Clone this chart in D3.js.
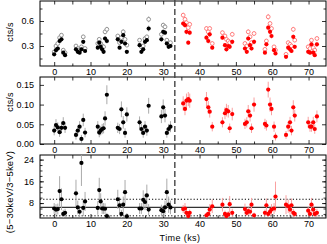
<!DOCTYPE html>
<html>
<head>
<meta charset="utf-8">
<script src="https://cdn.jsdelivr.net/npm/d3@7"></script>
<style>
  body { margin: 0; background: #fff; }
  svg { display: block; font-family: "Liberation Sans", Arial, sans-serif; }
</style>
</head>
<body>
<div id="chart"></div>
<script>
// ---- data ----
// first observation (black, t < 33 ks)
var timeBlack = [0.0, 0.5, 1.0, 1.5, 2.0, 2.5, 3.0,
  6.0, 6.5, 7.0, 7.5, 8.0, 8.5,
  12.0, 12.4, 12.8, 13.2, 13.6, 14.0, 14.5,
  17.5, 18.0, 18.5, 19.0, 19.5, 20.0,
  23.5, 24.0, 24.5, 25.0, 25.5, 26.0,
  29.5, 30.0, 30.5, 31.0, 31.5, 32.0];
var filledBlack = [0.20, 0.25, 0.27, 0.36, 0.38, 0.22, 0.19,
  0.26, 0.23, 0.22, 0.26, 0.35, 0.24,
  0.28, 0.34, 0.29, 0.26, 0.23, 0.39, 0.36,
  0.38, 0.28, 0.35, 0.43, 0.33, 0.23,
  0.31, 0.23, 0.26, 0.35, 0.37, 0.51,
  0.38, 0.47, 0.46, 0.33, 0.29, 0.30];
var openBlack = [0.23, 0.30, 0.33, 0.40, 0.43, 0.25, 0.22,
  0.30, 0.27, 0.25, 0.29, 0.41, 0.27,
  0.33, 0.38, 0.33, 0.30, 0.29, 0.47, 0.50,
  0.42, 0.34, 0.40, 0.47, 0.38, 0.31,
  0.37, 0.29, 0.30, 0.39, 0.41, 0.62,
  0.44, 0.55, 0.53, 0.37, 0.33, 0.34];
var rateErrBlack = [0.02, 0.02, 0.02, 0.025, 0.025, 0.02, 0.02,
  0.02, 0.02, 0.02, 0.02, 0.025, 0.02,
  0.02, 0.025, 0.02, 0.02, 0.02, 0.03, 0.03,
  0.025, 0.02, 0.025, 0.03, 0.025, 0.02,
  0.02, 0.02, 0.02, 0.025, 0.025, 0.035,
  0.025, 0.03, 0.03, 0.025, 0.02, 0.02];
var hardBlack = [0.034, 0.048, 0.042, 0.030, 0.041, 0.053, 0.041,
  0.023, 0.034, 0.044, 0.013, 0.061, 0.029,
  0.044, 0.029, 0.034, 0.038, 0.040, 0.065, 0.125,
  0.041, 0.038, 0.088, 0.055, 0.028, 0.075,
  0.055, 0.038, 0.028, 0.044, 0.034, 0.097,
  0.070, 0.093, 0.072, 0.028, 0.038, 0.044];
var hardErrBlack = [0.012, 0.015, 0.013, 0.012, 0.013, 0.015, 0.013,
  0.012, 0.013, 0.014, 0.010, 0.016, 0.012,
  0.014, 0.012, 0.012, 0.013, 0.013, 0.018, 0.024,
  0.013, 0.013, 0.020, 0.016, 0.012, 0.018,
  0.015, 0.013, 0.012, 0.014, 0.013, 0.020,
  0.017, 0.020, 0.017, 0.012, 0.013, 0.014];
var ratioBlack = [6.0, 5.6, 5.8, 12.4, 9.4, 4.0, 4.4,
  11.6, 6.4, 4.8, 22.8, 6.2, 8.6,
  6.2, 12.8, 8.6, 6.0, 6.0, 5.9, 3.2,
  9.4, 7.2, 4.0, 7.4, 12.0, 3.1,
  6.0, 6.0, 9.2, 8.4, 10.8, 5.6,
  5.4, 5.0, 6.4, 12.0, 7.4, 6.4];
var ratioErrBlack = [2, 2, 2, 5.5, 4, 1.5, 1.5,
  5, 2.5, 2, 8.5, 3, 3.5,
  2.5, 4.5, 3, 2, 2, 2, 1.2,
  3.5, 3, 1.5, 3, 4.5, 1.2,
  2, 2, 3.5, 3, 4, 2,
  2, 2, 2.5, 5, 3, 2.5];

// second observation (red, t > 33 ks)
var timeRed = [35.5, 36.0, 36.4, 36.9, 37.3,
  41.9, 42.4, 42.8, 43.5,
  46.3, 47.0, 47.4, 47.9, 48.3, 49.0,
  52.5, 53.0, 53.4, 53.9, 54.3, 55.0,
  58.0, 58.4, 58.9, 59.4, 59.8, 60.5, 60.9,
  63.8, 64.4, 64.9, 65.3, 65.8, 66.2,
  69.9, 70.4, 70.8, 71.3, 71.7, 72.3];
var filledRed = [0.57, 0.55, 0.47, 0.34, 0.46,
  0.40, 0.36, 0.44, 0.28,
  0.40, 0.31, 0.26, 0.30, 0.29, 0.35,
  0.27, 0.23, 0.39, 0.31, 0.27, 0.35,
  0.22, 0.32, 0.52, 0.47, 0.42, 0.25, 0.21,
  0.17, 0.28, 0.26, 0.24, 0.41, 0.29,
  0.23, 0.22, 0.32, 0.22, 0.19, 0.32];
var openRed = [0.67, 0.62, 0.58, 0.52, 0.56,
  0.51, 0.47, 0.51, 0.33,
  0.46, 0.42, 0.38, 0.36, 0.34, 0.44,
  0.33, 0.30, 0.47, 0.41, 0.34, 0.45,
  0.26, 0.36, 0.65, 0.57, 0.51, 0.29, 0.25,
  0.20, 0.34, 0.32, 0.30, 0.50, 0.37,
  0.29, 0.27, 0.37, 0.28, 0.25, 0.39];
var rateErrRed = [0.03, 0.03, 0.03, 0.025, 0.03,
  0.03, 0.03, 0.03, 0.025,
  0.025, 0.025, 0.025, 0.025, 0.025, 0.03,
  0.025, 0.02, 0.03, 0.025, 0.025, 0.03,
  0.02, 0.025, 0.035, 0.03, 0.03, 0.02, 0.02,
  0.02, 0.025, 0.025, 0.025, 0.03, 0.025,
  0.025, 0.025, 0.025, 0.025, 0.02, 0.03];
var hardRed = [0.103, 0.089, 0.110, 0.114, 0.110,
  0.114, 0.093, 0.082, 0.044,
  0.055, 0.078, 0.086, 0.083, 0.040, 0.076,
  0.051, 0.055, 0.083, 0.072, 0.040, 0.100,
  0.051, 0.047, 0.138, 0.100, 0.089, 0.044, 0.019,
  0.023, 0.044, 0.055, 0.034, 0.093, 0.072,
  0.055, 0.044, 0.044, 0.055, 0.038, 0.070];
var hardErrRed = [0.018, 0.016, 0.018, 0.018, 0.018,
  0.018, 0.016, 0.015, 0.012,
  0.013, 0.015, 0.016, 0.016, 0.012, 0.016,
  0.013, 0.013, 0.016, 0.015, 0.012, 0.018,
  0.013, 0.013, 0.020, 0.018, 0.016, 0.013, 0.010,
  0.010, 0.013, 0.014, 0.012, 0.018, 0.015,
  0.014, 0.013, 0.013, 0.014, 0.012, 0.015];
var ratioRed = [5.8, 6.0, 4.4, 3.2, 4.4,
  3.5, 4.0, 5.6, 6.8,
  7.4, 4.0, 3.2, 3.8, 7.6, 4.4,
  5.8, 4.4, 5.0, 4.8, 7.4, 3.5,
  4.4, 7.2, 4.0, 4.8, 5.6, 6.0, 10.4,
  7.4, 6.8, 5.6, 7.2, 4.4, 4.0,
  5.2, 4.0, 7.4, 5.6, 4.0, 4.4];
var ratioErrRed = [1.5, 2, 1.2, 1, 1.2,
  1, 1.2, 2, 2.5,
  2.5, 1.2, 1, 1.2, 3, 1.5,
  2, 1.2, 1.5, 1.5, 2.5, 1,
  1.2, 2.5, 1.2, 1.5, 2, 2, 5.5,
  3.5, 2.5, 2, 2.5, 1.5, 1.2,
  1.5, 1.2, 2.5, 2, 1.2, 1.5];

// reference lines and tick labels
var splitTime = 33.2;
var ratioMean = 6.4;
var ratioLimits = [3.3, 9.4];
var timeTicks = [0, 10, 20, 30, 40, 50, 60, 70];
var rateTicks = [0.3, 0.6];
var hardTicks = [0, 0.05, 0.1, 0.15];
var ratioTicks = [8, 16, 24];

function renderLightCurve(el) {
    var width = 327, height = 244;
    var left = 40, right = 326;

    var svg = d3.select("#" + el)
        .append("svg")
        .attr("width", width)
        .attr("height", height);

    var x = d3.scaleLinear().domain([-3.9, 74.8]).range([left, right]);

    // one entry per stacked panel
    var panels = [
        {top: 1, bottom: 66, domain: [0.06, 0.84], ticks: rateTicks, minor: [0.15, 0.45, 0.75],
         label: "cts/s", labelY: 32, labelSize: 9},
        {top: 77, bottom: 144, domain: [0, 0.17], ticks: hardTicks, minor: [],
         label: "cts/s", labelY: 102, labelSize: 9},
        {top: 155, bottom: 218, domain: [2.5, 25.7], ticks: ratioTicks, minor: d3.range(4, 26, 2),
         label: "(5\u221230keV/3\u22125keV)", labelY: 192, labelSize: 9.5}
    ];

    panels.forEach(function(p) {
        p.y = d3.scaleLinear().domain(p.domain).range([p.bottom, p.top]);
    });

    function styleAxis(g) {
        g.select(".domain").remove();
        g.selectAll("line").attr("stroke", "#000").attr("stroke-width", 0.8);
        g.selectAll("text")
            .attr("fill", "#000")
            .style("font-size", "9px")
            .style("font-family", "'Liberation Sans', Arial, sans-serif");
    }

    // frames, inward ticks on all four sides, labels
    panels.forEach(function(p) {
        var g = svg.append("g");
        var xMinor = d3.range(0, 75, 5).filter(function(v) { return v % 10 != 0; });

        g.append("g").attr("transform", "translate(0," + p.bottom + ")")
            .call(d3.axisBottom(x).tickValues(timeTicks).tickSizeInner(-4).tickSizeOuter(0).tickPadding(3))
            .call(styleAxis);
        g.append("g").attr("transform", "translate(0," + p.bottom + ")")
            .call(d3.axisBottom(x).tickValues(xMinor).tickSizeInner(-2.5).tickSizeOuter(0).tickFormat(""))
            .call(styleAxis);
        g.append("g").attr("transform", "translate(0," + p.top + ")")
            .call(d3.axisTop(x).tickValues(timeTicks.concat(xMinor)).tickSizeInner(-3.5).tickSizeOuter(0).tickFormat(""))
            .call(styleAxis);

        g.append("g").attr("transform", "translate(" + left + ",0)")
            .call(d3.axisLeft(p.y).tickValues(p.ticks).tickSizeInner(-4).tickSizeOuter(0).tickPadding(6))
            .call(styleAxis);
        g.append("g").attr("transform", "translate(" + left + ",0)")
            .call(d3.axisLeft(p.y).tickValues(p.minor).tickSizeInner(-2.5).tickSizeOuter(0).tickFormat(""))
            .call(styleAxis);
        g.append("g").attr("transform", "translate(" + right + ",0)")
            .call(d3.axisRight(p.y).tickValues(p.ticks).tickSizeInner(-4).tickSizeOuter(0).tickFormat(""))
            .call(styleAxis);
        g.append("g").attr("transform", "translate(" + right + ",0)")
            .call(d3.axisRight(p.y).tickValues(p.minor).tickSizeInner(-2.5).tickSizeOuter(0).tickFormat(""))
            .call(styleAxis);

        g.append("rect")
            .attr("x", left).attr("y", p.top)
            .attr("width", right - left).attr("height", p.bottom - p.top)
            .attr("fill", "none").attr("stroke", "#000").attr("stroke-width", 1);

        g.append("text")
            .attr("transform", "translate(13," + p.labelY + ") rotate(-90)")
            .attr("text-anchor", "middle")
            .style("font-size", p.labelSize + "px")
            .style("letter-spacing", "0.2px")
            .text(p.label);
    });

    // draw one series: error bars then markers
    function drawSeries(p, times, vals, errs, opts) {
        var rows = times.map(function(t, i) { return {t: t, v: vals[i], e: errs[i]}; });
        var g = svg.append("g");
        g.selectAll("line")
            .data(rows)
            .enter()
            .append("line")
            .attr("x1", function(d) { return x(d.t); })
            .attr("x2", function(d) { return x(d.t); })
            .attr("y1", function(d) { return Math.min(p.y(d.v - d.e), p.bottom); })
            .attr("y2", function(d) { return Math.max(p.y(d.v + d.e), p.top); })
            .attr("stroke", opts.err)
            .attr("stroke-width", 1);
        g.selectAll("circle")
            .data(rows)
            .enter()
            .append("circle")
            .attr("cx", function(d) { return x(d.t); })
            .attr("cy", function(d) { return p.y(d.v); })
            .attr("r", opts.open ? 1.9 : 2.1)
            .attr("fill", opts.open ? "#fff" : opts.color)
            .attr("stroke", opts.color)
            .attr("stroke-width", opts.open ? 0.9 : 0);
    }

    var blackErr = "#aaa", redErr = "#f9a0a0";

    // panel 1: open (total) and filled rates
    drawSeries(panels[0], timeBlack, openBlack, rateErrBlack, {color: "#8a8a8a", err: blackErr, open: true});
    drawSeries(panels[0], timeBlack, filledBlack, rateErrBlack, {color: "#000", err: blackErr, open: false});
    drawSeries(panels[0], timeRed, openRed, rateErrRed, {color: "#ff7070", err: redErr, open: true});
    drawSeries(panels[0], timeRed, filledRed, rateErrRed, {color: "#ff0000", err: redErr, open: false});

    // panel 2: hard rate
    drawSeries(panels[1], timeBlack, hardBlack, hardErrBlack, {color: "#000", err: blackErr, open: false});
    drawSeries(panels[1], timeRed, hardRed, hardErrRed, {color: "#ff0000", err: redErr, open: false});

    // panel 3: hardness ratio with mean and limits
    var p3 = panels[2];
    svg.append("line")
        .attr("x1", left).attr("x2", right)
        .attr("y1", p3.y(ratioMean)).attr("y2", p3.y(ratioMean))
        .attr("stroke", "#333").attr("stroke-width", 1.3);
    svg.selectAll(".limit")
        .data(ratioLimits)
        .enter()
        .append("line")
        .attr("class", "limit")
        .attr("x1", left).attr("x2", right)
        .attr("y1", function(d) { return p3.y(d); })
        .attr("y2", function(d) { return p3.y(d); })
        .attr("stroke", "#000").attr("stroke-width", 1)
        .attr("stroke-dasharray", "1.2,2");
    drawSeries(p3, timeBlack, ratioBlack, ratioErrBlack, {color: "#000", err: blackErr, open: false});
    drawSeries(p3, timeRed, ratioRed, ratioErrRed, {color: "#ff0000", err: redErr, open: false});

    // dashed divider between the two observations
    svg.append("line")
        .attr("x1", x(splitTime)).attr("x2", x(splitTime))
        .attr("y1", 0).attr("y2", p3.bottom)
        .attr("stroke", "#444").attr("stroke-width", 1.4)
        .attr("stroke-dasharray", "6,3");

    svg.append("text")
        .attr("x", 180).attr("y", 241)
        .attr("text-anchor", "middle")
        .style("font-size", "9px")
        .style("letter-spacing", "0.4px")
        .text("Time (ks)");
}

renderLightCurve("chart");
</script>
</body>
</html>
